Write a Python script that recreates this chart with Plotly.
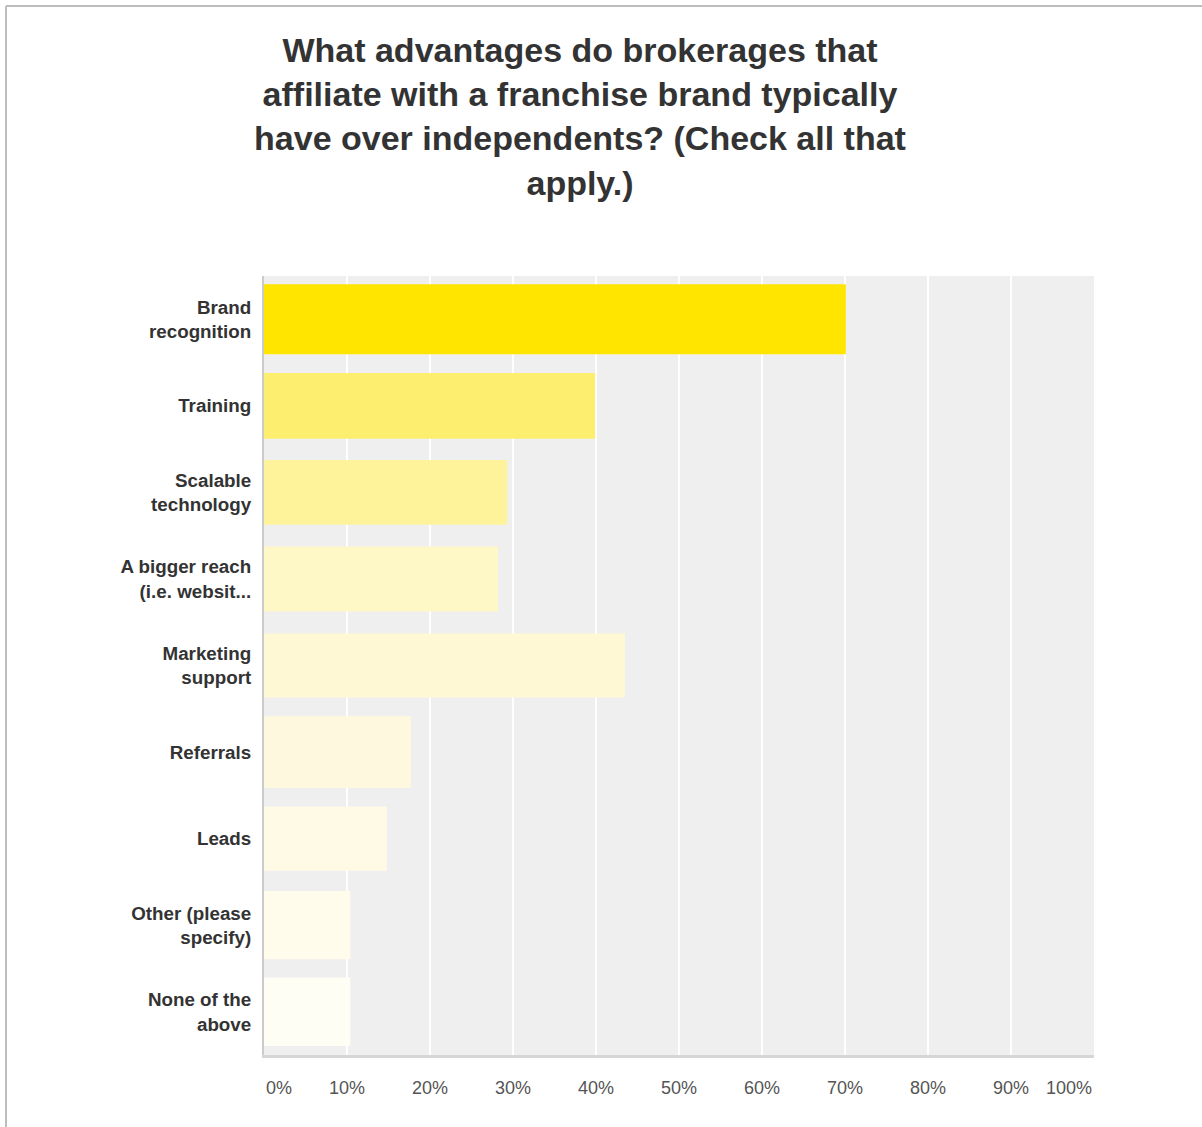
import plotly.graph_objects as go

# Survey answers, listed top to bottom
categories = [
    "Brand<br>recognition",
    "Training",
    "Scalable<br>technology",
    "A bigger reach<br>(i.e. websit...",
    "Marketing<br>support",
    "Referrals",
    "Leads",
    "Other (please<br>specify)",
    "None of the<br>above",
]
# Share of respondents (%)
values = [70.1, 39.9, 29.3, 28.2, 43.5, 17.7, 14.8, 10.4, 10.4]

# Axis ticks
tick_values = [0, 10, 20, 30, 40, 50, 60, 70, 80, 90, 100]
tick_labels = ["0%", "10%", "20%", "30%", "40%", "50%", "60%", "70%", "80%", "90%", "100%"]

# Styling: fading yellow ramp and slightly uneven bar thickness
bar_colors = ["#FFE500", "#FDEE6F", "#FEF39B", "#FEF7C6", "#FEF8D5",
              "#FEF9DE", "#FFFAE6", "#FFFCEC", "#FFFEF5"]
bar_widths = [0.81, 0.76, 0.75, 0.75, 0.74, 0.83, 0.74, 0.79, 0.79]

NBSP = "\u00a0"
# keep the first and last tick labels inside the plot edges
shown_ticks = list(tick_labels)
shown_ticks[0] = NBSP * 6 + shown_ticks[0]
shown_ticks[-1] = shown_ticks[-1] + NBSP * 10

W, H = 1202, 1127
L, R, T, B = 264, 1094, 276, 1055

fig = go.Figure(
    go.Bar(
        x=values,
        y=categories,
        orientation="h",
        marker=dict(color=bar_colors, line=dict(width=0)),
        width=bar_widths,
        hoverinfo="skip",
    )
)

font_family = "Liberation Sans, Arial, Helvetica, sans-serif"

fig.update_layout(
    width=W,
    height=H,
    margin=dict(l=L, r=W - R, t=T, b=H - B, pad=0),
    paper_bgcolor="white",
    plot_bgcolor="#EFEFEF",
    showlegend=False,
    font=dict(family=font_family),
    title=dict(
        text="What advantages do brokerages that<br>affiliate with a franchise brand typically"
             "<br>have over independents? (Check all that<br>apply.)",
        xref="container",
        yref="container",
        x=580 / W,
        xanchor="center",
        y=1 - 62 / H,
        yanchor="top",
        font=dict(family=font_family, size=34, color="#333333", weight="bold"),
    ),
    xaxis=dict(
        range=[0, 100],
        tickvals=tick_values,
        ticktext=shown_ticks,
        showgrid=True,
        gridcolor="white",
        gridwidth=2,
        zeroline=False,
        showline=True,
        linecolor="#D6D6D6",
        linewidth=3,
        ticks="",
        ticklabelstandoff=14,
        tickfont=dict(size=18, color="#555555", family=font_family),
        fixedrange=True,
    ),
    yaxis=dict(
        autorange="reversed",
        showgrid=False,
        zeroline=False,
        showline=True,
        linecolor="#CCCCCC",
        linewidth=2,
        ticks="",
        ticklabelstandoff=7,
        tickfont=dict(size=18.8, color="#333333", family=font_family, weight="bold"),
        fixedrange=True,
    ),
    bargap=0.23,
)

# thin frame along the top and left edges of the page
px_to_paper_x = lambda px: (px - L) / (R - L)
px_to_paper_y = lambda py: (B - py) / (B - T)
frame = dict(color="#BDBDBD", width=2)
fig.add_shape(type="line", xref="paper", yref="paper",
              x0=px_to_paper_x(6), x1=px_to_paper_x(W),
              y0=px_to_paper_y(6), y1=px_to_paper_y(6), line=frame)
fig.add_shape(type="line", xref="paper", yref="paper",
              x0=px_to_paper_x(6), x1=px_to_paper_x(6),
              y0=px_to_paper_y(6), y1=px_to_paper_y(H), line=frame)

fig.write_html("out.html", config={"displayModeBar": False})
